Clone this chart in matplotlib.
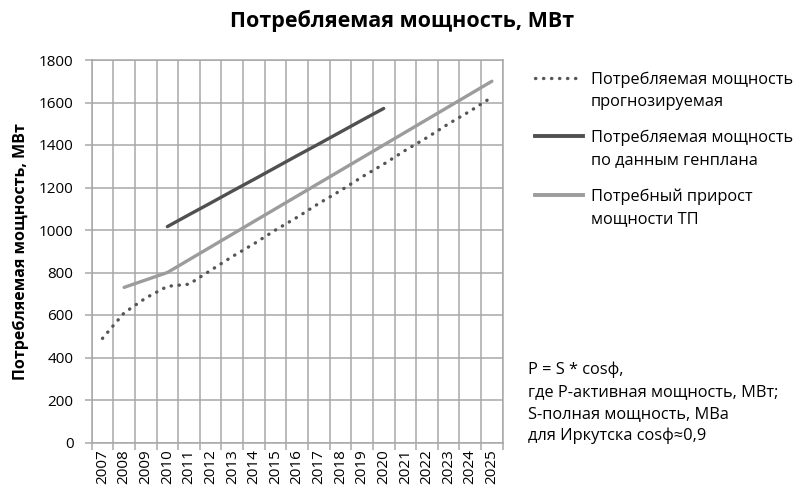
import matplotlib
matplotlib.use("Agg")
import matplotlib.pyplot as plt
from matplotlib.lines import Line2D
import numpy as np

plt.rcParams['font.family'] = ['Open Sans', 'DejaVu Sans']

# data
years = [str(y) for y in range(2007, 2026)]
forecast = [490, 610, 680, 735, 745, 810, 875, 935, 1000, 1060, 1125,
            1185, 1250, 1310, 1375, 1435, 1500, 1560, 1625]
genplan_years = [str(y) for y in range(2010, 2021)]
genplan = [1016, 1072, 1127, 1183, 1238, 1294, 1350, 1405, 1461, 1517, 1572]
growth_years = [str(y) for y in range(2008, 2026)]
growth = [730, 765, 800, 860, 920, 980, 1040, 1100, 1160, 1220, 1280,
          1340, 1400, 1460, 1520, 1580, 1640, 1700]

labels = [["Потребляемая мощность", "прогнозируемая"],
          ["Потребляемая мощность", "по данным генплана"],
          ["Потребный прирост", "мощности ТП"]]
note = ["P = S * cosф,",
        "где Р-активная мощность, МВт;",
        "S-полная мощность, МВа",
        "для Иркутска cosф≈0,9"]

c_dot = "#555555"
c_dark = "#505050"
c_light = "#9c9c9c"
c_grid = "#a8a8a8"

fig = plt.figure(figsize=(8.02, 5), dpi=100)
ax = fig.add_axes([0.1143, 0.115, 0.5125, 0.765])

pos = {y: i for i, y in enumerate(years)}
ax.plot([pos[y] for y in years], forecast, color=c_dot, lw=2.4,
        linestyle=(0, (0.1, 2.3)), dash_capstyle='round', zorder=3)
ax.plot([pos[y] for y in genplan_years], genplan, color=c_dark, lw=2.4,
        solid_capstyle='round', zorder=3)
ax.plot([pos[y] for y in growth_years], growth, color=c_light, lw=2.4,
        solid_capstyle='round', zorder=3)

ax.set_xlim(-0.5, len(years) - 0.5)
ax.set_ylim(0, 1800)
ax.set_yticks(np.arange(0, 1801, 200))
ax.set_xticks(range(len(years)))
ax.set_xticklabels(years, rotation=90, fontsize=11)
ax.set_xticks(np.arange(-0.5, len(years), 1), minor=True)
ax.tick_params(axis='x', which='major', length=0, pad=5)
ax.tick_params(axis='x', which='minor', length=5, width=1.1, color=c_grid)
ax.tick_params(axis='y', length=5, width=1.1, color=c_grid, labelsize=11, pad=8)
ax.grid(True, which='minor', axis='x', color=c_grid, lw=1.1)
ax.grid(True, which='major', axis='y', color=c_grid, lw=1.1)
for s in ax.spines.values():
    s.set_color(c_grid)
    s.set_linewidth(1.1)

ax.set_ylabel("Потребляемая мощность, МВт", fontsize=11.5, fontweight='bold',
              labelpad=7)
fig.text(0.501, 0.958, "Потребляемая мощность, МВт", ha='center', va='center',
         fontsize=15.5, fontweight='bold')

# legend drawn by hand
W, H = 802, 500
styles = [dict(color=c_dot, lw=2.4, linestyle=(0, (0.1, 2.3)), dash_capstyle='round'),
          dict(color=c_dark, lw=2.8),
          dict(color=c_light, lw=2.8)]
ys = [78, 136, 195]
for lab, st, yy in zip(labels, styles, ys):
    fig.add_artist(Line2D([535 / W, 583 / W], [1 - yy / H, 1 - yy / H], **st))
    for k, line in enumerate(lab):
        fig.text(591 / W, 1 - (yy + 22 * k) / H, line, ha='left',
                 va='center_baseline', fontsize=11.8)

for k, line in enumerate(note):
    fig.text(528 / W, 1 - (368 + 22 * k) / H, line, ha='left',
             va='center_baseline', fontsize=11.8)

fig.savefig("out.png", dpi=100)
